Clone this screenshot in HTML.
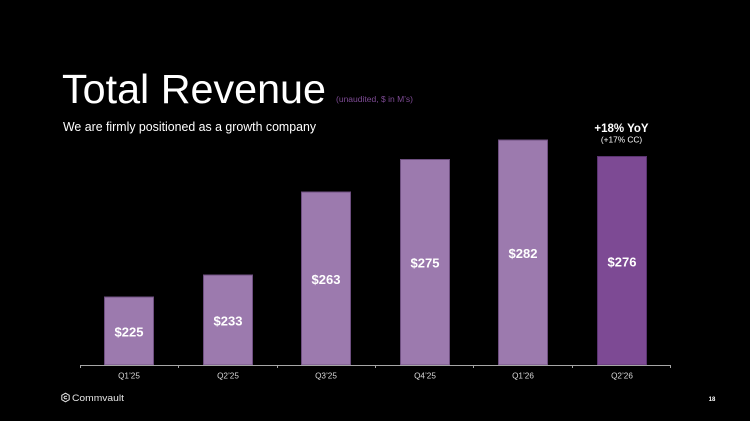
<!DOCTYPE html>
<html>
<head>
<meta charset="utf-8">
<style>
html,body{margin:0;padding:0;background:#000;}
svg{display:block;}
text{font-family:"Liberation Sans",Arial,sans-serif;}
</style>
</head>
<body>
<svg width="750" height="421" viewBox="0 0 750 421" xmlns="http://www.w3.org/2000/svg">
<rect width="750" height="421" fill="#000"/>
<text x="62" y="103" font-size="41" fill="#fff" textLength="264" lengthAdjust="spacingAndGlyphs">Total Revenue</text>
<text x="336" y="102" font-size="8" fill="#7d4a94" textLength="77" lengthAdjust="spacingAndGlyphs">(unaudited, $ in M’s)</text>
<text x="63" y="131" font-size="13" fill="#fff" textLength="253" lengthAdjust="spacingAndGlyphs">We are firmly positioned as a growth company</text>

<text x="621.5" y="132" font-size="11.5" font-weight="bold" fill="#fff" text-anchor="middle">+18% YoY</text>
<text x="621.5" y="142.5" font-size="8.3" fill="#fff" text-anchor="middle">(+17% CC)</text>

<g stroke-width="1">
<rect x="104.5" y="297" width="49" height="68" fill="#9c7aae" stroke="#6e4f80"/>
<rect x="203.5" y="275" width="49" height="90" fill="#9c7aae" stroke="#6e4f80"/>
<rect x="301.5" y="192" width="49" height="173" fill="#9c7aae" stroke="#6e4f80"/>
<rect x="400.5" y="159.5" width="49" height="205.5" fill="#9c7aae" stroke="#6e4f80"/>
<rect x="498.5" y="140" width="49" height="225" fill="#9c7aae" stroke="#6e4f80"/>
<rect x="597.5" y="156.5" width="49" height="208.5" fill="#7d4a94" stroke="#5a3470"/>
</g>

<g font-size="13" font-weight="bold" fill="#fff" text-anchor="middle">
<text x="129" y="336.5">$225</text>
<text x="228" y="325.5">$233</text>
<text x="326" y="284">$263</text>
<text x="425" y="267.5">$275</text>
<text x="523" y="258">$282</text>
<text x="622" y="266.5">$276</text>
</g>

<g stroke="#a6a6a6" stroke-width="1">
<line x1="80" y1="365.5" x2="671" y2="365.5"/>
<line x1="80.5" y1="365" x2="80.5" y2="368"/>
<line x1="178.5" y1="365" x2="178.5" y2="368"/>
<line x1="277.5" y1="365" x2="277.5" y2="368"/>
<line x1="375.5" y1="365" x2="375.5" y2="368"/>
<line x1="473.5" y1="365" x2="473.5" y2="368"/>
<line x1="572.5" y1="365" x2="572.5" y2="368"/>
<line x1="670.5" y1="365" x2="670.5" y2="368"/>
</g>

<g font-size="8.2" fill="#d9d9d9" text-anchor="middle">
<text x="129" y="378.7">Q1’25</text>
<text x="228" y="378.7">Q2’25</text>
<text x="326" y="378.7">Q3’25</text>
<text x="425" y="378.7">Q4’25</text>
<text x="523" y="378.7">Q1’26</text>
<text x="622" y="378.7">Q2’26</text>
</g>

<!-- Commvault logo -->
<g transform="translate(65.5,397.5)" fill="none" stroke="#e6e6e6" stroke-width="1">
<polygon points="0,-4.3 3.7,-2.15 3.7,2.15 0,4.3 -3.7,2.15 -3.7,-2.15"/>
<polyline points="1.6,-1.3 -0.6,-1.3 -1.6,0 -0.6,1.3 1.6,1.3"/>
</g>
<text x="72" y="401" font-size="9.5" fill="#e6e6e6" textLength="52" lengthAdjust="spacingAndGlyphs">Commvault</text>

<text x="712" y="401" font-size="6" font-weight="bold" fill="#fff" text-anchor="middle">18</text>
</svg>
</body>
</html>
